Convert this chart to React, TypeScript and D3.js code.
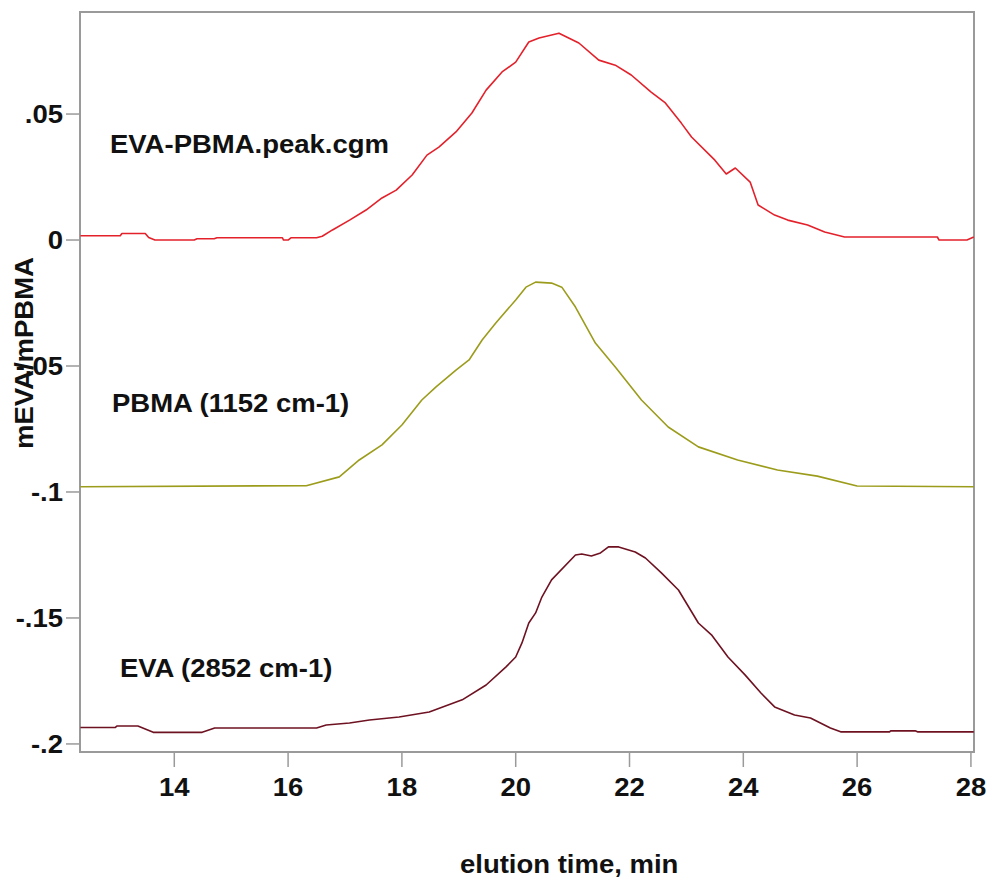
import React from "react";
import * as d3 from "d3";

const W = 989;
const H = 880;

// x ticks (elution time, min)
const xTicks = [14, 16, 18, 20, 22, 24, 26, 28];
const xTickLabels = ["14", "16", "18", "20", "22", "24", "26", "28"];
// y ticks
const yTicks = [0.05, 0, -0.05, -0.1, -0.15, -0.2];
const yTickLabels = [".05", "0", "-.05", "-.1", "-.15", "-.2"];

// EVA-PBMA.peak.cgm (red)
const cgmT = [12.35, 13.05, 13.08, 13.49, 13.55, 13.66, 14.35, 14.4, 14.7, 14.75, 15.9, 15.92, 16.0, 16.05, 16.5, 16.6, 16.78, 17.08, 17.37, 17.65, 17.9, 18.18, 18.44, 18.65, 18.95, 19.23, 19.48, 19.76, 20.0, 20.23, 20.41, 20.76, 21.11, 21.46, 21.75, 22.03, 22.38, 22.63, 22.91, 23.09, 23.5, 23.7, 23.86, 24.12, 24.26, 24.55, 24.78, 25.13, 25.43, 25.78, 27.41, 27.44, 27.93, 28.05];
const cgmV = [0.0017, 0.0017, 0.0026, 0.0026, 0.001, 0.0, 0.0, 0.0005, 0.0005, 0.0009, 0.0009, 0.0, 0.0, 0.0009, 0.0009, 0.0015, 0.004, 0.0079, 0.0119, 0.0167, 0.0198, 0.0258, 0.0337, 0.0369, 0.0429, 0.0504, 0.0595, 0.0667, 0.0706, 0.0786, 0.0802, 0.0821, 0.0782, 0.0714, 0.0694, 0.0655, 0.0587, 0.0544, 0.0464, 0.0409, 0.0317, 0.0262, 0.0286, 0.023, 0.0139, 0.0099, 0.0079, 0.006, 0.0032, 0.0012, 0.0012, 0.0, 0.0, 0.0012];

// PBMA (1152 cm-1) (olive)
const pbmaT = [12.35, 16.32, 16.9, 17.25, 17.65, 18.0, 18.35, 18.6, 18.95, 19.18, 19.41, 19.65, 20.0, 20.18, 20.35, 20.63, 20.81, 21.05, 21.4, 21.75, 22.21, 22.68, 23.21, 23.9, 24.6, 25.3, 26.0, 28.05];
const pbmaV = [-0.0979, -0.0975, -0.094, -0.0873, -0.0813, -0.0734, -0.0635, -0.0583, -0.0516, -0.0476, -0.0397, -0.0329, -0.0238, -0.0187, -0.0167, -0.0171, -0.0187, -0.0266, -0.0409, -0.0504, -0.0635, -0.0742, -0.0821, -0.0873, -0.0913, -0.0937, -0.0976, -0.0979];

// EVA (2852 cm-1) (maroon)
const evaT = [12.35, 12.96, 12.99, 13.36, 13.63, 14.49, 14.71, 16.5, 16.67, 17.08, 17.43, 17.95, 18.48, 19.06, 19.48, 19.83, 20.0, 20.11, 20.23, 20.35, 20.46, 20.63, 21.05, 21.16, 21.33, 21.49, 21.63, 21.81, 22.1, 22.28, 22.56, 22.86, 23.21, 23.44, 23.73, 24.03, 24.31, 24.55, 24.9, 25.18, 25.53, 25.71, 26.57, 26.59, 27.02, 27.06, 28.05];
const evaV = [-0.1935, -0.1935, -0.1929, -0.1929, -0.1954, -0.1954, -0.1937, -0.1937, -0.1925, -0.1917, -0.1905, -0.1893, -0.1873, -0.1825, -0.1766, -0.1694, -0.1655, -0.1599, -0.152, -0.148, -0.1417, -0.1349, -0.125, -0.1246, -0.1254, -0.1242, -0.1218, -0.1218, -0.1238, -0.1262, -0.1321, -0.1389, -0.152, -0.1567, -0.1655, -0.1726, -0.1798, -0.1853, -0.1885, -0.1897, -0.1937, -0.1952, -0.1952, -0.1948, -0.1948, -0.1952, -0.1952];

const seriesNames = ["EVA-PBMA.peak.cgm", "PBMA (1152 cm-1)", "EVA (2852 cm-1)"];
const seriesColors = ["#e3212b", "#9c9c1c", "#6e1222"];

const M = { left: 80, right: 974, top: 12, bottom: 752 };
const FONT = "'Liberation Sans', Arial, sans-serif";

export default function App() {
  const x = d3.scaleLinear().domain([12.343, 28.054]).range([M.left, M.right]);
  const y = d3.scaleLinear().domain([-0.2032, 0.0905]).range([M.bottom, M.top]);
  const line = d3
    .line<[number, number]>()
    .x((d) => x(d[0]))
    .y((d) => y(d[1]));

  const zip = (t: number[], v: number[]) => t.map((ti, i) => [ti, v[i]] as [number, number]);
  const series = [zip(cgmT, cgmV), zip(pbmaT, pbmaV), zip(evaT, evaV)];
  const labelPos = [
    { x: 110, y: 153 },
    { x: 112, y: 412 },
    { x: 120, y: 677 },
  ];
  const axisColor = "#9a9a9a";
  const sx = 1.1;

  return (
    <svg width={W} height={H} style={{ position: "absolute", left: 0, top: 0, display: "block", background: "#fff" }}>
      <rect x={0} y={0} width={W} height={H} fill="#fff" />
      {/* frame */}
      <rect x={M.left} y={M.top} width={M.right - M.left} height={M.bottom - M.top} fill="none" stroke={axisColor} strokeWidth={2} />
      {/* series */}
      {series.map((s, i) => (
        <path key={i} d={line(s) || ""} fill="none" stroke={seriesColors[i]} strokeWidth={1.6} strokeLinejoin="round" />
      ))}
      {/* y ticks */}
      {yTicks.map((t, i) => (
        <g key={"y" + i}>
          <line x1={M.left - 14} x2={M.left} y1={y(t)} y2={y(t)} stroke={axisColor} strokeWidth={1.5} />
          <g transform={`translate(${M.left - 17},${y(t) + 9}) scale(${sx},1)`}>
            <text x={0} y={0} textAnchor="end" fontFamily={FONT} fontWeight="bold" fontSize={25} fill="#111">
              {yTickLabels[i]}
            </text>
          </g>
        </g>
      ))}
      {/* x ticks */}
      {xTicks.map((t, i) => (
        <g key={"x" + i}>
          <line x1={x(t)} x2={x(t)} y1={M.bottom} y2={M.bottom + 15} stroke={axisColor} strokeWidth={1.5} />
          <g transform={`translate(${x(t)},${796}) scale(${sx},1)`}>
            <text x={0} y={0} textAnchor="middle" fontFamily={FONT} fontWeight="bold" fontSize={25} fill="#111">
              {xTickLabels[i]}
            </text>
          </g>
        </g>
      ))}
      {/* series labels */}
      {seriesNames.map((n, i) => (
        <g key={"l" + i} transform={`translate(${labelPos[i].x},${labelPos[i].y}) scale(${sx},1)`}>
          <text x={0} y={0} fontFamily={FONT} fontWeight="bold" fontSize={25} fill="#111">
            {n}
          </text>
        </g>
      ))}
      {/* axis titles */}
      <g transform={`translate(460,873) scale(${sx},1)`}>
        <text x={0} y={0} fontFamily={FONT} fontWeight="bold" fontSize={25} fill="#111">
          elution time, min
        </text>
      </g>
      <g transform={`translate(33,353) rotate(-90) scale(${sx},1)`}>
        <text x={0} y={0} textAnchor="middle" fontFamily={FONT} fontWeight="bold" fontSize={25} fill="#111">
          mEVA/mPBMA
        </text>
      </g>
    </svg>
  );
}
